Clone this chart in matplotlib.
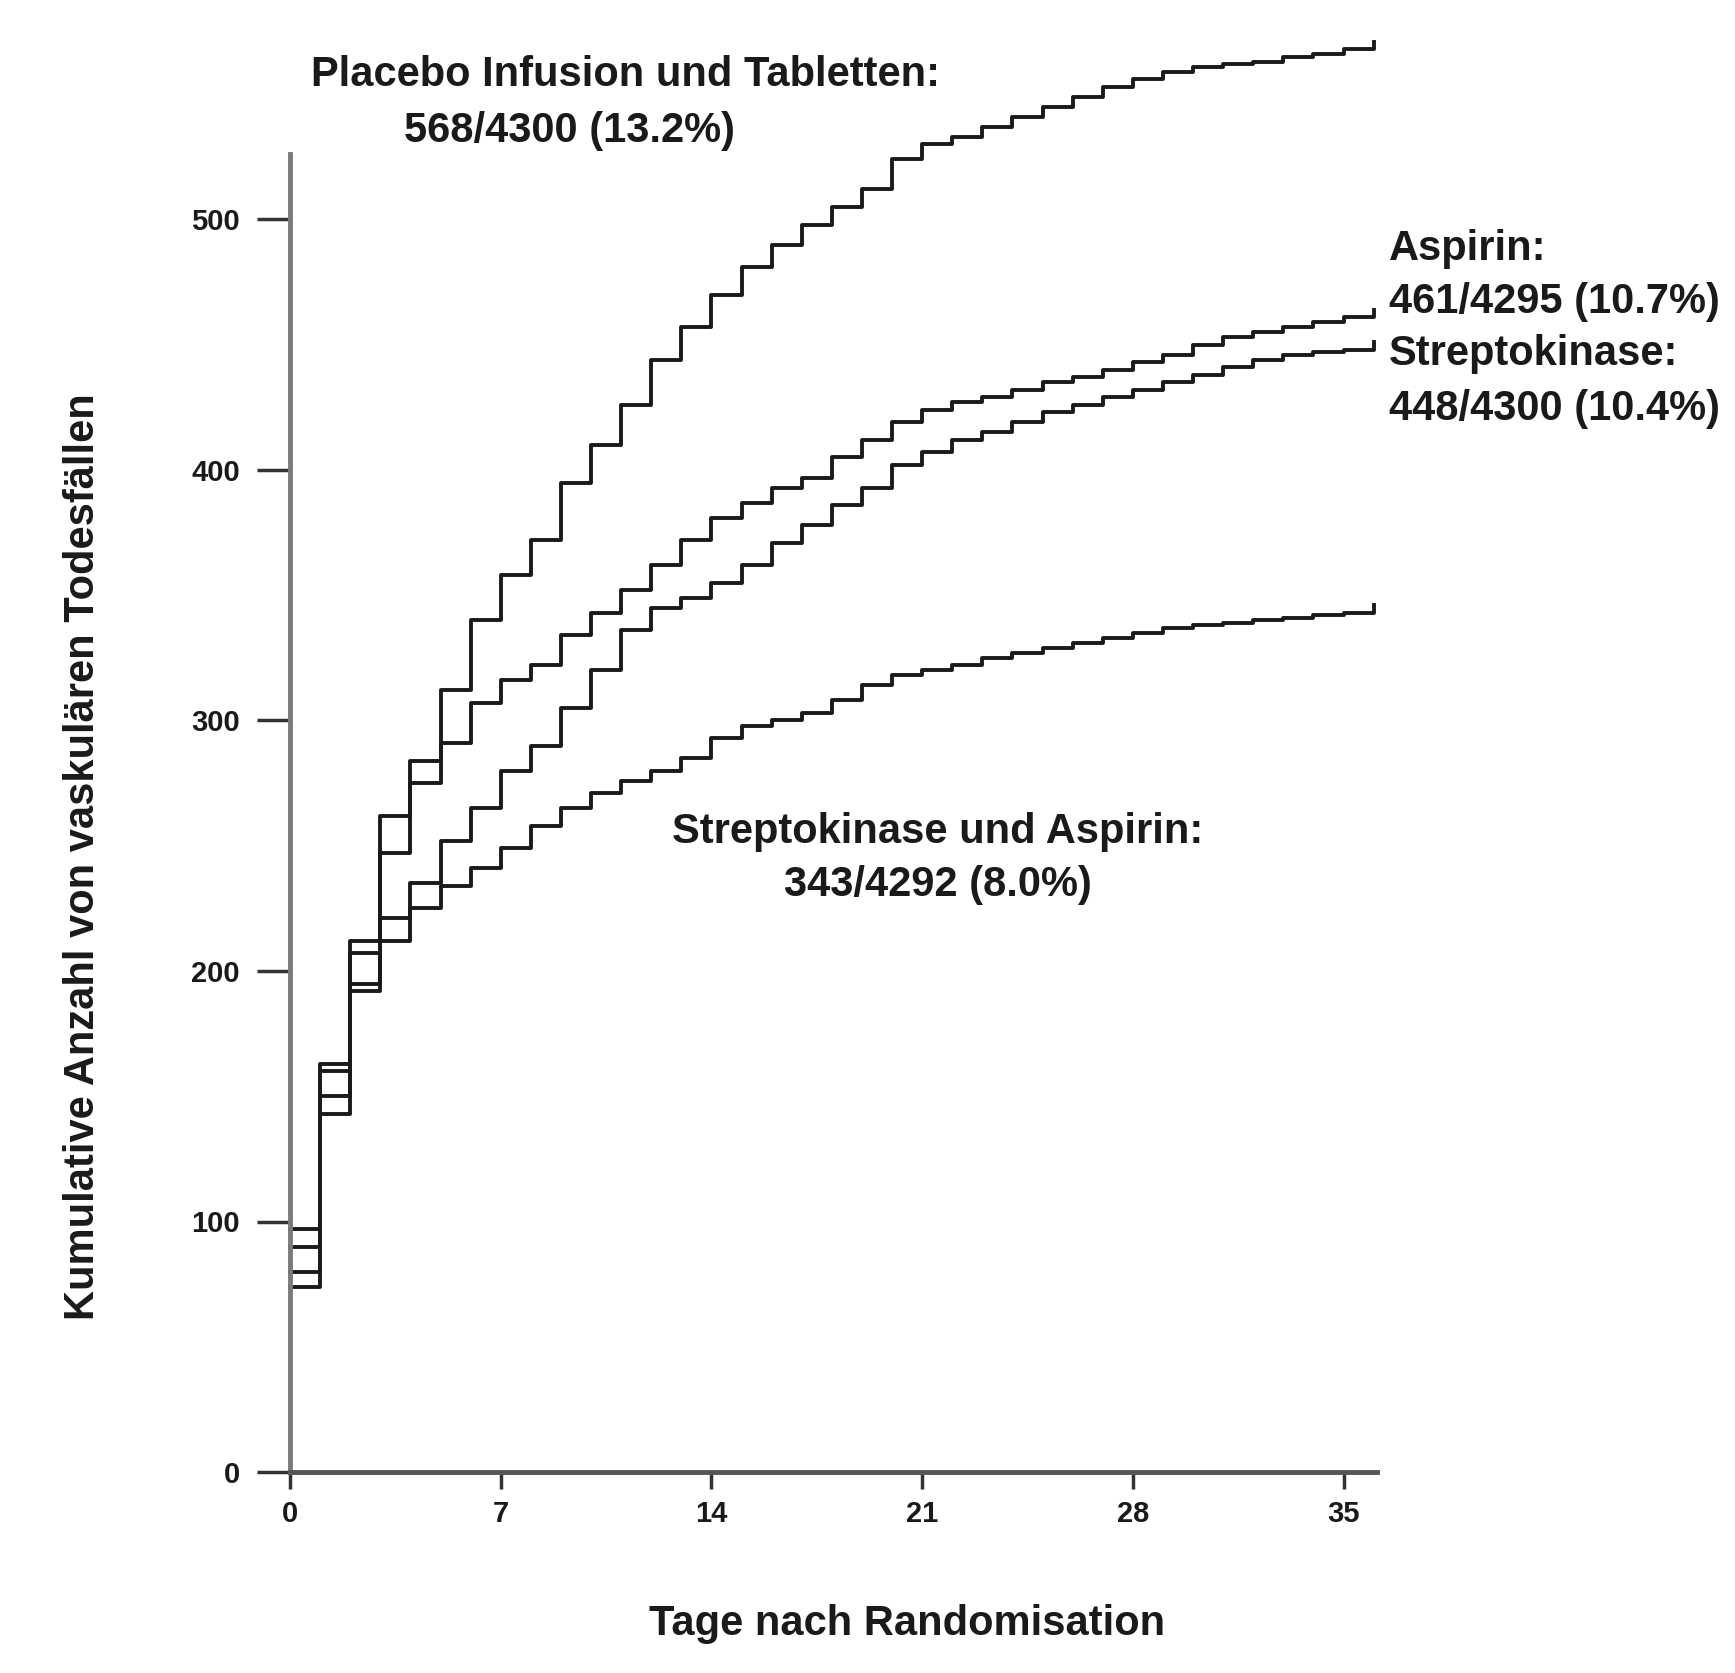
#!/usr/bin/env python3
"""ISIS-2 style cumulative vascular deaths, four treatment groups."""

import matplotlib.pyplot as plt

OUT = "out.png"

FONT = ["Liberation Sans Narrow", "Liberation Sans", "DejaVu Sans"]
INK = "#1a1a1a"
AXIS = "#7a7a7a"

# days after randomisation (step starts)
days = list(range(0, 37))

placebo = [97, 163, 212, 262, 284, 312, 340, 358, 372, 395, 410, 426, 444, 457,
           470, 481, 490, 498, 505, 512, 524, 530, 533, 537, 541, 545, 549, 553,
           556, 559, 561, 562, 563, 565, 566, 568, 571]
aspirin = [90, 160, 207, 247, 275, 291, 307, 316, 322, 334, 343, 352, 362, 372,
           381, 387, 393, 397, 405, 412, 419, 424, 427, 429, 432, 435, 437, 440,
           443, 446, 450, 453, 455, 457, 459, 461, 464]
streptokinase = [74, 143, 195, 221, 235, 252, 265, 280, 290, 305, 320, 336, 345,
                 349, 355, 362, 371, 378, 386, 393, 402, 407, 412, 415, 419, 423,
                 426, 429, 432, 435, 438, 441, 444, 446, 447, 448, 451]
sk_aspirin = [80, 150, 192, 212, 225, 234, 241, 249, 258, 265, 271, 276, 280, 285,
              293, 298, 300, 303, 308, 314, 318, 320, 322, 325, 327, 329, 331, 333,
              335, 337, 338, 339, 340, 341, 342, 343, 346]

x_ticks = [0, 7, 14, 21, 28, 35]
y_ticks = [0, 100, 200, 300, 400, 500]

W, H = 1735, 1673


def fx(px):
    return px / W


def fy(py):
    return 1 - py / H


def main():
    fig = plt.figure(figsize=(W / 100, H / 100), dpi=100)
    x0, y0 = 290, 1472
    xmax, ymax = 36.2, 575
    ax = fig.add_axes([fx(x0), fy(y0), xmax * 30.1 / W, ymax * 2.505 / H])
    ax.set_xlim(0, xmax)
    ax.set_ylim(0, ymax)

    for series in (placebo, aspirin, streptokinase, sk_aspirin):
        ax.plot(days, series, drawstyle="steps-post", color=INK, lw=2.8,
                clip_on=False)

    for side in ("top", "right"):
        ax.spines[side].set_visible(False)
    ax.spines["left"].set_bounds(0, 526)
    ax.spines["bottom"].set_bounds(0, 36.1)
    ax.spines["left"].set_color(AXIS)
    ax.spines["bottom"].set_color("#555555")
    ax.spines["left"].set_linewidth(3.5)
    ax.spines["bottom"].set_linewidth(3.5)

    ax.set_xticks(x_ticks)
    ax.set_yticks(y_ticks)
    ax.tick_params(axis="y", direction="out", length=24, width=2.5,
                   color="#333333", pad=12)
    ax.tick_params(axis="x", direction="out", length=12, width=2.5,
                   color="#333333", pad=8)
    for lab in ax.get_xticklabels() + ax.get_yticklabels():
        lab.set_family(FONT)
        lab.set_fontweight("bold")
        lab.set_fontsize(21)
        lab.set_color(INK)

    txt = dict(family=FONT, fontweight="bold", fontsize=30, color=INK)
    fig.text(fx(625), fy(75), "Placebo Infusion und Tabletten:",
             ha="center", va="center", **txt)
    fig.text(fx(569), fy(131), "568/4300 (13.2%)",
             ha="center", va="center", **txt)

    for py, s in [(249, "Aspirin:"), (302, "461/4295 (10.7%)"),
                  (354, "Streptokinase:"), (409, "448/4300 (10.4%)")]:
        fig.text(fx(1389), fy(py), s, ha="left", va="center", **txt)

    fig.text(fx(938), fy(832), "Streptokinase und Aspirin:",
             ha="center", va="center", **txt)
    fig.text(fx(938), fy(885), "343/4292 (8.0%)",
             ha="center", va="center", **txt)

    fig.text(fx(83), fy(857), "Kumulative Anzahl von vaskulären Todesfällen",
             rotation=90, ha="center", va="center", **txt)
    fig.text(fx(907), fy(1624), "Tage nach Randomisation",
             ha="center", va="center", **txt)

    fig.savefig(OUT, dpi=100)
    plt.close(fig)


if __name__ == "__main__":
    main()
